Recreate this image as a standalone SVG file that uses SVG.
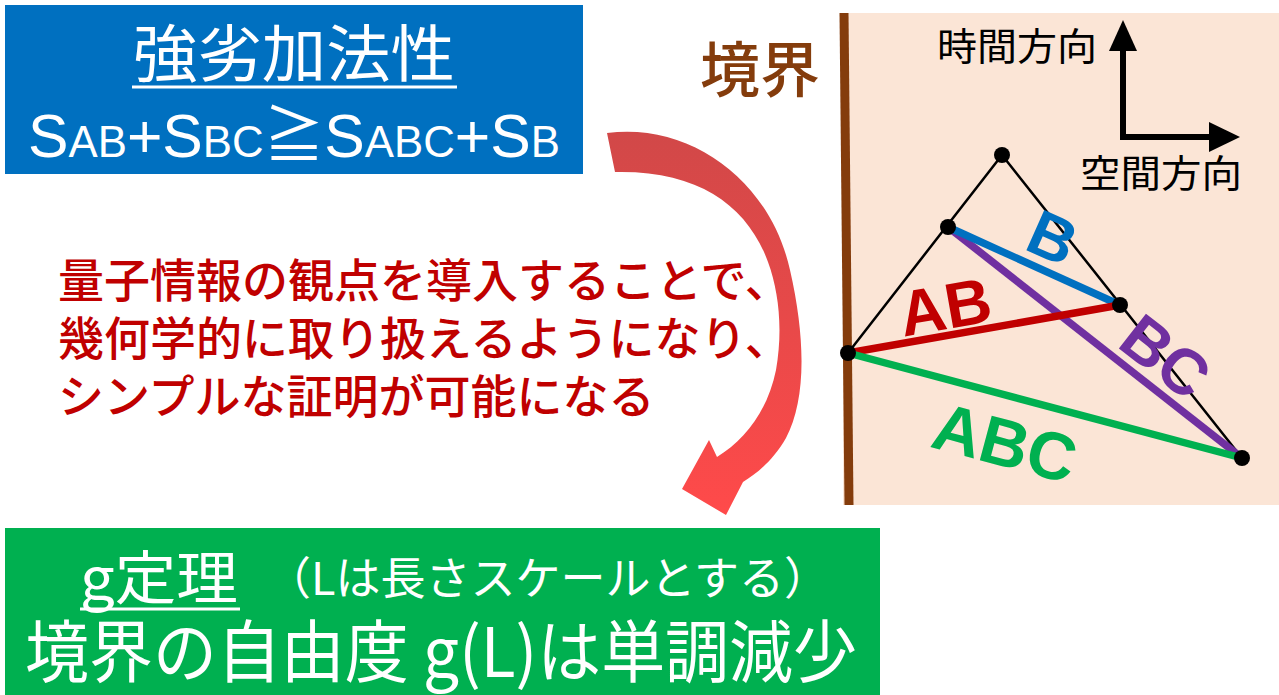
<svg xmlns="http://www.w3.org/2000/svg" width="1279" height="695" viewBox="0 0 1279 695">
<defs>
<style>
.jp{font-family:"Noto Sans CJK JP","Noto Sans CJK SC",sans-serif}
.lat{font-family:"Liberation Sans",Arial,"Noto Sans CJK JP",sans-serif}
.w{fill:#fff}
.thin{stroke:#000;stroke-width:2.5;fill:none}
.seg{stroke-width:7.5;fill:none;stroke-linecap:butt}
.dot{fill:#000}
.lbl{font-family:"Liberation Sans",Arial,sans-serif;font-weight:bold;text-anchor:middle}
.red{fill:#C00000;font-size:46px;font-weight:500}
</style>
<linearGradient id="arrowGrad" gradientUnits="userSpaceOnUse" x1="0" y1="130" x2="0" y2="515">
<stop offset="0" stop-color="#D14848"/>
<stop offset="1" stop-color="#FF4A4A"/>
</linearGradient>
</defs>
<rect width="1279" height="695" fill="#fff"/>

<g id="strong-subadditivity">
<rect x="5" y="5" width="578" height="169" fill="#0070C0"/>
<text class="jp w" x="294" y="77" font-size="62" text-anchor="middle" textLength="322" lengthAdjust="spacingAndGlyphs">強劣加法性</text>
<line x1="132" y1="87" x2="457" y2="87" stroke="#fff" stroke-width="3"/>
<text class="lat w" x="28" y="157" font-size="61" textLength="532" lengthAdjust="spacingAndGlyphs">S<tspan font-size="44">AB</tspan>+S<tspan font-size="44">BC</tspan>≧S<tspan font-size="44">ABC</tspan>+S<tspan font-size="44">B</tspan></text>
</g>

<g id="explanation">
<text class="jp red" x="58" y="297">量子情報の観点を導入することで、</text>
<text class="jp red" x="58" y="355">幾何学的に取り扱えるようになり、</text>
<text class="jp red" x="58" y="413">シンプルな証明が可能になる</text>
</g>

<g id="g-theorem">
<rect x="5" y="528" width="875" height="167" fill="#00B050"/>
<text class="jp w" x="80" y="599" font-size="58" textLength="158" lengthAdjust="spacingAndGlyphs">g定理</text>
<line x1="80" y1="609" x2="240" y2="609" stroke="#fff" stroke-width="3"/>
<text class="jp w" x="266" y="595" font-size="45">（Lは長さスケールとする）</text>
<text class="jp w" x="25" y="677" font-size="68" textLength="832" lengthAdjust="spacingAndGlyphs">境界の自由度 g(L)は単調減少</text>
</g>

<g id="connectors">
<path id="curved-arrow" fill="url(#arrowGrad)" d="M 607,133 C 690,122 770,180 790,270 C 806,340 806,400 786,438 C 774,459 758,473 743,482 L 726,515 L 682,489 L 709,440 L 717,457 C 745,440 768,410 776,370 C 783,330 779,292 768,262 C 748,207 700,170 615,172 Z"/>
</g>

<g id="diagram">
<rect x="843" y="13" width="436" height="492" fill="#FBE5D6"/>
<line x1="844" y1="13" x2="849" y2="505" stroke="#843C0C" stroke-width="9"/>
<text class="jp" x="700" y="92" font-size="60" fill="#843C0C" font-weight="500">境界</text>

<g id="axes">
<text class="jp" x="937" y="60" font-size="38" textLength="160" lengthAdjust="spacingAndGlyphs">時間方向</text>
<text class="jp" x="1080" y="187" font-size="38" textLength="162" lengthAdjust="spacingAndGlyphs">空間方向</text>
<polyline points="1123,48 1123,137 1211,137" fill="none" stroke="#000" stroke-width="6"/>
<polygon points="1123,20 1109,51 1137,51" fill="#000"/>
<polygon points="1240,137 1209,122 1209,152" fill="#000"/>
</g>

<g id="triangle">
<polyline class="thin" points="848,353 1002,155 1242,458"/>
<line class="seg" x1="948" y1="227" x2="1242" y2="458" stroke="#7030A0"/>
<line class="seg" x1="948" y1="227" x2="1120" y2="305" stroke="#0070C0"/>
<line class="seg" x1="848" y1="353" x2="1120" y2="305" stroke="#C00000"/>
<line class="seg" x1="848" y1="353" x2="1242" y2="458" stroke="#00B050"/>
<circle class="dot" cx="1002" cy="155" r="8"/>
<circle class="dot" cx="948" cy="227" r="8"/>
<circle class="dot" cx="1120" cy="305" r="8"/>
<circle class="dot" cx="848" cy="353" r="8"/>
<circle class="dot" cx="1242" cy="458" r="8"/>
</g>

<g id="label-B" transform="translate(1053,237) rotate(24)"><text class="lbl" y="23" font-size="64" fill="#0070C0">B</text></g>
<g id="label-AB" transform="translate(945,306) rotate(-10)"><text class="lbl" y="23" font-size="64" fill="#C00000">AB</text></g>
<g id="label-BC" transform="translate(1166,356) rotate(38)"><text class="lbl" y="23" font-size="64" fill="#7030A0">BC</text></g>
<g id="label-ABC" transform="translate(1005,442) rotate(15)"><text class="lbl" y="24" font-size="67" fill="#00B050">ABC</text></g>
</g>
</svg>
